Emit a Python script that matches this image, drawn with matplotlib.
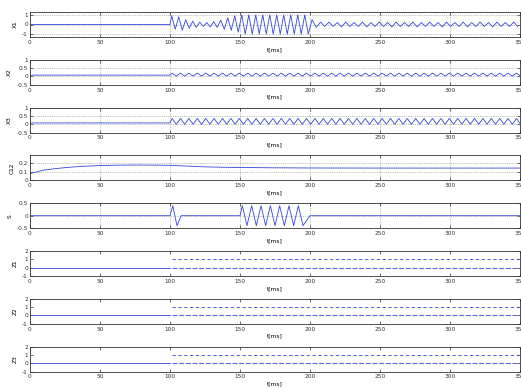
import numpy as np
import matplotlib
matplotlib.use("Agg")
import matplotlib.pyplot as plt

# ---- data -------------------------------------------------------------
t_end = 350.0
onset = 100.0

# X1: resting at 0, then response extrema (alternating peak / trough)
x1_seg_a = [0.9, -0.5, 0.8, -0.6, 0.5, -0.4, 0.35, -0.3, 0.25, -0.2,
            0.2, -0.25, 0.3, -0.3, 0.45, -0.5, 0.7, -0.6, 0.9, -0.8]
x1_seg_b = [1.0, -1.0, 1.0, -1.0, 1.0, -1.0, 1.0, -1.0, 1.0, -1.0,
            1.0, -1.0, 1.0, -1.0, 1.0, -1.0, 1.0, -1.0, 1.0, -1.0]
x1_seg_c = [0.5, -0.3, 0.25, -0.2, 0.25, -0.2, 0.2, -0.25, 0.25, -0.2,
            0.2, -0.2, 0.25, -0.25, 0.2, -0.2, 0.25, -0.2, 0.2, -0.25,
            0.25, -0.2, 0.2, -0.2, 0.25, -0.25, 0.2, -0.2, 0.25, -0.2,
            0.2, -0.25, 0.25, -0.2, 0.2, -0.2, 0.25, -0.25, 0.2, -0.2,
            0.25, -0.2, 0.2, -0.25, 0.25, -0.2, 0.2, -0.2, 0.25, -0.25]

# X2 / X3: baseline before onset, extrema afterwards
x2_rest = 0.08
x2_ext = [0.2, 0.02] * 42
x3_rest = 0.08
x3_ext = [0.35, 0.0] * 42

# C12: slow coupling trace
c12_t = [0, 5, 10, 20, 30, 40, 50, 60, 70, 80, 90, 100, 110, 120, 130,
         140, 150, 175, 200, 250, 300, 350]
c12_v = [0.08, 0.10, 0.12, 0.14, 0.155, 0.165, 0.172, 0.176, 0.178, 0.178,
         0.177, 0.175, 0.168, 0.16, 0.155, 0.152, 0.15, 0.146, 0.144, 0.143,
         0.143, 0.143]

# S: stimulus bursts (extrema, starting and ending at 0)
s_burst1_t = [100, 102, 105, 108]
s_burst1_v = [0.0, 0.4, -0.4, 0.0]
s_burst2_v = [0.0] + [0.4, -0.4] * 7 + [0.0]

# Z1..Z3: binary states
z_levels = [0, 1]
z_onset = [101.5, 101.5, 101.5]

panel_names = ["X1", "X2", "X3", "C12", "S", "Z1", "Z2", "Z3"]
xticks = [0, 50, 100, 150, 200, 250, 300, 350]

# ---- helpers ----------------------------------------------------------
def extrema_series(t0, half, vals):
    t = t0 + half * (np.arange(len(vals)) + 0.5)
    return t, np.asarray(vals, float)

# X1 trace
ta, va = extrema_series(onset, 2.5, x1_seg_a)
tb, vb = extrema_series(150.0, 2.5, x1_seg_b)
tc, vc = extrema_series(200.0, 3.0, x1_seg_c)
x1_t = np.concatenate([[0, onset], ta, tb, tc])
x1_v = np.concatenate([[0, 0], va, vb, vc])

t2, v2 = extrema_series(onset, 3.0, x2_ext)
x2_t = np.concatenate([[0, onset], t2])
x2_v = np.concatenate([[x2_rest, x2_rest], v2])
t3, v3 = extrema_series(onset, 3.0, x3_ext)
x3_t = np.concatenate([[0, onset], t3])
x3_v = np.concatenate([[x3_rest, x3_rest], v3])

half2 = 50.0 / (len(s_burst2_v) - 1)
s2_t = 150.0 + half2 * np.arange(len(s_burst2_v))
s2_t = np.concatenate([[s2_t[0]], s2_t[1:-1] - half2 / 2, [s2_t[-1]]])
s_t = np.concatenate([[0], s_burst1_t, s2_t, [t_end]])
s_v = np.concatenate([[0], s_burst1_v, s_burst2_v, [0]])

# ---- figure -----------------------------------------------------------
W, H = 521, 389
fig = plt.figure(figsize=(W / 100, H / 100), dpi=100)
fig.patch.set_facecolor("white")

line_c = "#3346d8"
box_c = "#333333"
grid_kw = dict(color="#8a8a8a", linestyle=(0, (1, 1.6)), linewidth=0.5)
fs = 4.2

left_px, right_px = 30, 520
top0, step, hgt = 12.0, 47.8, 25.0

ylims = [(-1.3, 1.3), (-0.5, 1.0), (-0.5, 1.0), (0, 0.29), (-0.5, 0.5),
         (-1, 2), (-1, 2), (-1, 2)]
yticks = [[-1, 0, 1], [-0.5, 0, 0.5, 1], [-0.5, 0, 0.5, 1], [0, 0.1, 0.2],
          [-0.5, 0, 0.5], [-1, 0, 1, 2], [-1, 0, 1, 2], [-1, 0, 1, 2]]
yticklabels = [["-1", "0", "1"], ["-0.5", "0", "0.5", "1"],
               ["-0.5", "0", "0.5", "1"], ["0", "0.1", "0.2"],
               ["-0.5", "0", "0.5"], ["-1", "0", "1", "2"],
               ["-1", "0", "1", "2"], ["-1", "0", "1", "2"]]
grids = [True, True, True, True, True, False, False, False]

for k, name in enumerate(panel_names):
    top = top0 + step * k
    ax = fig.add_axes([left_px / W, 1 - (top + hgt) / H,
                       (right_px - left_px) / W, hgt / H])
    ax.set_xlim(0, t_end)
    ax.set_ylim(*ylims[k])
    ax.set_xticks(xticks)
    ax.set_xticklabels([str(v) for v in xticks])
    ax.set_yticks(yticks[k])
    ax.set_yticklabels(yticklabels[k])
    ax.tick_params(direction="in", length=2.2, width=0.5, colors=box_c,
                   labelsize=fs, pad=1.5, top=True, right=True)
    ax.tick_params(axis="x", pad=2)
    for sp in ax.spines.values():
        sp.set_color(box_c)
        sp.set_linewidth(0.6)
    if grids[k]:
        ax.grid(True, **grid_kw)
        ax.set_axisbelow(True)
    ax.set_ylabel(name, fontsize=fs, labelpad=3)
    ax.set_xlabel("t[ms]", fontsize=fs, labelpad=1.5)

    if name == "X1":
        ax.plot(x1_t, x1_v, color=line_c, lw=0.6)
    elif name == "X2":
        ax.plot(x2_t, x2_v, color=line_c, lw=0.6)
    elif name == "X3":
        ax.plot(x3_t, x3_v, color=line_c, lw=0.6)
    elif name == "C12":
        ax.plot(c12_t, c12_v, color=line_c, lw=0.6)
    elif name == "S":
        ax.plot(s_t, s_v, color=line_c, lw=0.6)
    else:
        zo = z_onset[k - 5]
        ax.plot([0, onset], [z_levels[0], z_levels[0]], color=line_c, lw=0.6)
        ax.plot([zo, t_end], [z_levels[1], z_levels[1]], color=line_c,
                lw=0.6, dashes=(4, 3))
        ax.plot([zo, t_end], [z_levels[0], z_levels[0]], color=line_c,
                lw=0.6, dashes=(6, 2))

fig.savefig("out.png", dpi=100, facecolor="white")
